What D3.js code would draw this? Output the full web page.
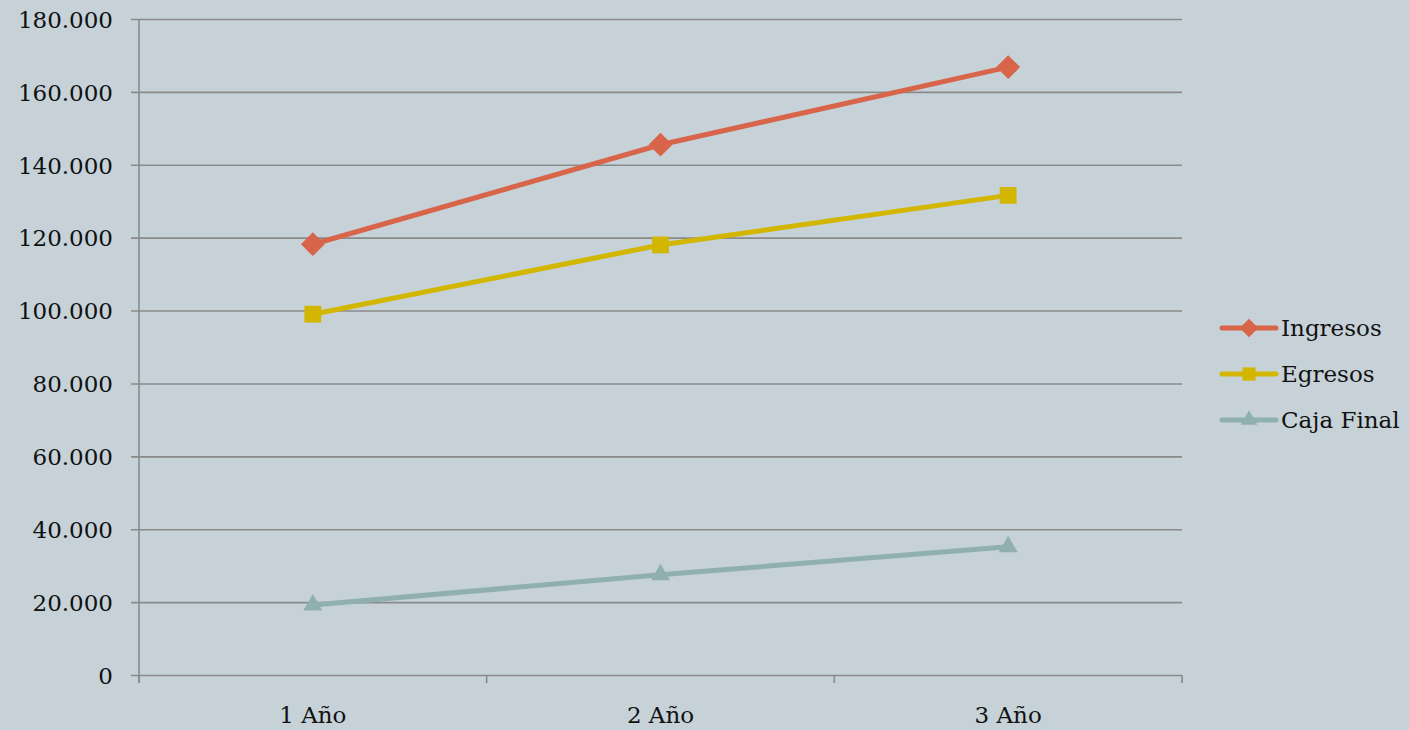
<!DOCTYPE html>
<html>
<head>
<meta charset="utf-8">
<script src="https://cdn.jsdelivr.net/npm/d3@7"></script>
<style>
  html, body { margin: 0; padding: 0; background: #c6d2d8; }
  text { font-family: "DejaVu Serif", serif; fill: #111; }
</style>
</head>
<body>
<script>
/////////////////////////////////////////////////
// data
/////////////////////////////////////////////////
var categories = ["1 Año", "2 Año", "3 Año"];
var ingresos   = [118200, 145500, 166800];
var egresos    = [99000, 118000, 131600];
var cajaFinal  = [19200, 27500, 35200];
var yTicks     = [0, 20000, 40000, 60000, 80000, 100000, 120000, 140000, 160000, 180000];

var series = [
  { name: "Ingresos",   values: ingresos,  color: "#d8644a", symbol: d3.symbolDiamond2 },
  { name: "Egresos",    values: egresos,   color: "#d2b600", symbol: d3.symbolSquare2 },
  { name: "Caja Final", values: cajaFinal, color: "#8fb0ae", symbol: d3.symbolTriangle2 }
];

/////////////////////////////////////////////////
// locals
/////////////////////////////////////////////////
var width  = 1409,
    height = 730;
var pLeft = 139, pRight = 1182, pTop = 19, pBottom = 675;
var gridColor = "#8a8a8a";

var svg = d3.select("body").append("svg")
    .attr("width", width)
    .attr("height", height);

var x = d3.scaleBand().domain(categories).range([pLeft, pRight]);
var y = d3.scaleLinear().domain([0, 180000]).range([pBottom, pTop]);

var fmt = function(v) { return d3.format(",")(v).replace(/,/g, "."); };

// gridlines + y axis
var yAxis = d3.axisLeft(y)
    .tickValues(yTicks)
    .tickSize(-(pRight - pLeft))
    .tickPadding(26)
    .tickFormat(fmt);

var gy = svg.append("g")
    .attr("transform", "translate(" + pLeft + ",0)")
    .call(yAxis);
gy.select(".domain").remove();
gy.selectAll(".tick line")
    .attr("x1", -8)
    .attr("stroke", gridColor)
    .attr("stroke-width", 1.6);
gy.selectAll(".tick text")
    .attr("x", -26)
    .style("font-size", "23px")
    .attr("dy", "0.36em");

// y axis line
svg.append("line")
    .attr("x1", pLeft).attr("x2", pLeft)
    .attr("y1", pTop).attr("y2", pBottom + 8)
    .attr("stroke", gridColor)
    .attr("stroke-width", 1.6);

// x axis ticks at category boundaries
var bounds = categories.map(function(c) { return x(c); }).concat([pRight]);
svg.selectAll(".xtick").data(bounds).enter().append("line")
    .attr("class", "xtick")
    .attr("x1", function(d) { return d; })
    .attr("x2", function(d) { return d; })
    .attr("y1", pBottom)
    .attr("y2", pBottom + 8)
    .attr("stroke", gridColor)
    .attr("stroke-width", 1.6);

svg.selectAll(".xlabel").data(categories).enter().append("text")
    .attr("class", "xlabel")
    .attr("x", function(d) { return x(d) + x.bandwidth() / 2; })
    .attr("y", 723)
    .attr("text-anchor", "middle")
    .style("font-size", "23px")
    .text(function(d) { return d; });

// lines + markers
var line = d3.line()
    .x(function(d, i) { return x(categories[i]) + x.bandwidth() / 2; })
    .y(function(d) { return y(d); });

series.forEach(function(s) {
  var g = svg.append("g");
  g.append("path")
    .attr("d", line(s.values))
    .attr("fill", "none")
    .attr("stroke", s.color)
    .attr("stroke-width", 5);
  g.selectAll("path.mark").data(s.values).enter().append("path")
    .attr("class", "mark")
    .attr("transform", function(d, i) {
      return "translate(" + (x(categories[i]) + x.bandwidth() / 2) + "," + y(d) + ")";
    })
    .attr("d", d3.symbol().type(s.symbol).size(s.symbol === d3.symbolTriangle2 ? 260 : 360))
    .attr("fill", s.color);
});

// legend
var legend = svg.append("g").attr("transform", "translate(1222,328)");
var rows = legend.selectAll("g").data(series).enter().append("g")
    .attr("transform", function(d, i) { return "translate(0," + i * 46 + ")"; });
rows.append("line")
    .attr("x1", 0).attr("x2", 54)
    .attr("stroke", function(d) { return d.color; })
    .attr("stroke-width", 5)
    .attr("stroke-linecap", "round");
rows.append("path")
    .attr("transform", "translate(27,0)")
    .attr("d", function(d) {
      return d3.symbol().type(d.symbol).size(d.symbol === d3.symbolTriangle2 ? 200 : 220)();
    })
    .attr("fill", function(d) { return d.color; });
rows.append("text")
    .attr("x", 59)
    .attr("dy", "0.36em")
    .style("font-size", "23px")
    .text(function(d) { return d.name; });
</script>
</body>
</html>
